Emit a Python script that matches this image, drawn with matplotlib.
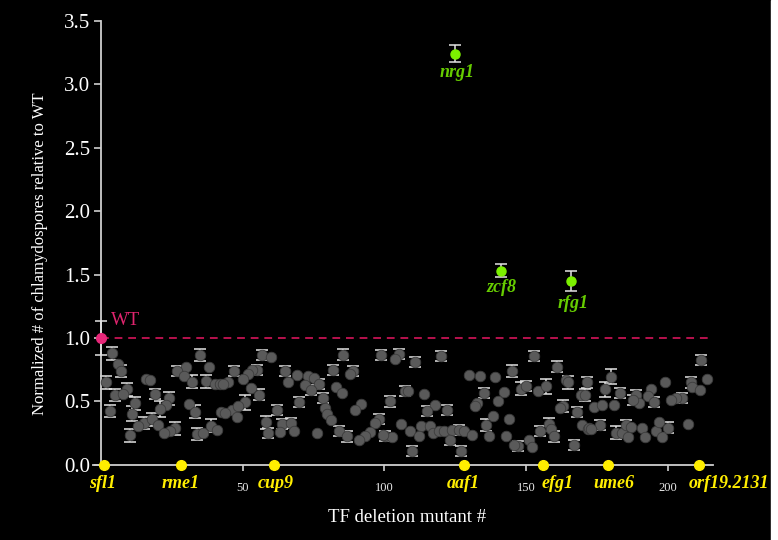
import matplotlib
matplotlib.use("Agg")
import matplotlib.pyplot as plt
from matplotlib.patches import Rectangle
import numpy as np

# ---------------- data ----------------
mut_x = [3.7, 34.9, 5.8, 6.8, 29.8, 38.0, 26.7, 29.0, 32.1, 36.8, 40.0, 41.8, 1.7, 15.8, 17.0,
         8.9, 4.9, 7.6, 18.8, 23.7, 11.7, 22.9, 30.9, 20.6, 32.9, 2.9, 10.9, 42.3, 14.9, 17.8,
         12.9, 20.0, 25.9, 24.1, 38.8, 40.9, 10.0, 22.0, 33.7, 35.9,
         56.8, 59.8, 85.2, 46.8, 54.8, 53.3, 51.9, 64.8, 69.0, 73.1, 75.1, 81.9, 44.8, 43.0, 49.9,
         66.0, 71.9, 77.0, 82.9, 84.9, 52.8, 55.8, 73.9, 78.2, 50.8, 69.9, 79.0, 79.8, 81.1, 46.0,
         43.5, 48.3, 47.8, 61.9, 58.0, 63.9, 67.0, 58.9, 63.0, 68.0, 76.0, 84.0,
         98.9, 105.0, 103.8, 110.9, 120.0, 88.9, 87.9, 107.3, 108.2, 113.9, 102.0, 91.7, 89.7, 118.0,
         115.0, 122.0, 98.0, 96.7, 105.9, 108.9, 112.9, 116.0, 112.3, 117.0, 119.2, 121.0, 123.8,
         126.2, 128.2, 123.2, 95.0, 93.2, 90.9, 86.7, 100.3, 102.7, 99.4, 109.7, 127.0,
         129.9, 133.7, 138.9, 145.0, 152.8, 161.0, 164.0, 164.8, 171.7, 135.1, 142.2, 148.1, 149.9,
         154.2, 157.0, 169.5, 171.0, 132.8, 131.9, 140.0, 163.0, 162.0, 168.1, 138.3, 144.0, 135.9,
         158.0, 159.0, 155.0, 131.0, 136.9, 143.0, 151.0, 147.1, 145.7, 152.0, 159.9, 169.9, 171.8,
         167.0,
         211.8, 180.0, 177.9, 183.1, 188.9, 194.2, 199.1, 190.0, 193.0, 187.7, 195.2, 208.2, 208.7,
         211.3, 214.0, 205.0, 203.0, 201.2, 174.0, 176.9, 181.0, 172.3, 176.0, 181.8, 183.9, 185.2,
         187.1, 185.9, 191.0, 192.0, 196.0, 196.9, 200.1, 198.0, 207.2, 173.0]

mut_y = [0.88, 0.865, 0.795, 0.74, 0.77, 0.77, 0.74, 0.70, 0.655, 0.66, 0.64, 0.64, 0.65, 0.68, 0.67,
         0.595, 0.55, 0.56, 0.56, 0.525, 0.485, 0.47, 0.48, 0.44, 0.42, 0.425, 0.405, 0.42, 0.33, 0.36,
         0.31, 0.315, 0.29, 0.27, 0.31, 0.275, 0.235, 0.25, 0.245, 0.255,
         0.865, 0.85, 0.87, 0.74, 0.75, 0.745, 0.72, 0.74, 0.71, 0.70, 0.685, 0.75, 0.65, 0.64, 0.675,
         0.65, 0.63, 0.635, 0.615, 0.57, 0.605, 0.555, 0.59, 0.525, 0.495, 0.495, 0.445, 0.40, 0.355, 0.43,
         0.41, 0.465, 0.375, 0.43, 0.335, 0.32, 0.33, 0.255, 0.26, 0.27, 0.25, 0.27,
         0.865, 0.873, 0.835, 0.81, 0.86, 0.74, 0.72, 0.585, 0.58, 0.56, 0.50, 0.48, 0.435, 0.47,
         0.425, 0.435, 0.36, 0.33, 0.32, 0.27, 0.31, 0.31, 0.23, 0.25, 0.27, 0.27, 0.275,
         0.275, 0.27, 0.20, 0.26, 0.23, 0.20, 0.225, 0.23, 0.22, 0.24, 0.11, 0.11,
         0.71, 0.70, 0.695, 0.74, 0.86, 0.775, 0.67, 0.65, 0.65, 0.57, 0.575, 0.60, 0.62,
         0.585, 0.62, 0.555, 0.55, 0.485, 0.465, 0.505, 0.465, 0.445, 0.42, 0.385, 0.36, 0.315,
         0.32, 0.28, 0.27, 0.24, 0.23, 0.23, 0.195, 0.15, 0.16, 0.145, 0.225, 0.315, 0.28,
         0.155,
         0.825, 0.695, 0.595, 0.565, 0.55, 0.60, 0.655, 0.485, 0.545, 0.51, 0.495, 0.65, 0.615,
         0.59, 0.675, 0.53, 0.53, 0.51, 0.46, 0.47, 0.475, 0.29, 0.315, 0.255, 0.25, 0.315,
         0.30, 0.22, 0.295, 0.22, 0.27, 0.34, 0.295, 0.22, 0.32, 0.28]

mut_err = [0.05, 0.05, 0, 0.05, 0, 0, 0.04, 0, 0.05, 0.05, 0, 0, 0.05, 0, 0,
           0.05, 0.05, 0, 0.04, 0.05, 0.05, 0, 0, 0.06, 0.05, 0.05, 0.06, 0, 0.05, 0.05,
           0, 0, 0.05, 0, 0.05, 0, 0.05, 0, 0.05, 0,
           0.04, 0, 0.04, 0.04, 0.04, 0, 0, 0.04, 0, 0, 0, 0.04, 0, 0, 0,
           0, 0, 0.04, 0, 0, 0, 0.04, 0.04, 0.04, 0.06, 0.04, 0, 0, 0, 0,
           0, 0, 0, 0.04, 0.05, 0.04, 0.04, 0.04, 0, 0, 0, 0.04,
           0.04, 0.04, 0, 0.04, 0.04, 0.04, 0, 0.04, 0, 0, 0.04, 0, 0, 0,
           0.04, 0.04, 0.04, 0, 0, 0, 0, 0, 0, 0, 0, 0, 0,
           0.04, 0, 0.04, 0, 0, 0, 0.04, 0.04, 0, 0, 0.04, 0.04,
           0, 0, 0, 0.05, 0.04, 0.04, 0, 0.05, 0.04, 0.04, 0, 0.05, 0.04,
           0, 0.06, 0, 0.05, 0, 0, 0, 0.05, 0, 0.04, 0, 0, 0.05,
           0.05, 0, 0.04, 0, 0, 0, 0, 0.04, 0, 0, 0.04, 0, 0,
           0.04,
           0.04, 0.06, 0.06, 0.04, 0.04, 0, 0, 0, 0, 0.04, 0.04, 0.04, 0,
           0, 0, 0.04, 0, 0, 0, 0, 0, 0, 0.04, 0.05, 0, 0.04,
           0, 0, 0, 0, 0, 0, 0.04, 0, 0, 0]

hit_names = ["nrg1", "zcf8", "rfg1"]
hit_x = [125, 141, 166]
hit_y = [3.24, 1.53, 1.45]
hit_err = [0.07, 0.05, 0.08]

wt_x, wt_y, wt_err = 0, 1.0, 0.13

ref_names = ["sfl1", "rme1", "cup9", "aaf1", "efg1", "ume6", "orf19.2131"]
ref_x = [1, 28, 61, 128, 156, 179, 211]

y_ticks = [0.0, 0.5, 1.0, 1.5, 2.0, 2.5, 3.0, 3.5]
x_ticks = [50, 100, 150, 200]

# ---------------- figure ----------------
SERIF = ["Liberation Serif", "DejaVu Serif"]
fig = plt.figure(figsize=(7.78, 5.40), dpi=100, facecolor="black")
ax = fig.add_axes([0.1195, 0.1389, 0.7967, 0.8231])
ax.set_facecolor("black")
ax.set_xlim(-3, 216)
ax.set_ylim(0, 3.5)

for s in ["top", "right"]:
    ax.spines[s].set_visible(False)
ax.spines["left"].set_position(("data", 0))
for s in ["left", "bottom"]:
    ax.spines[s].set_color("#cfcfcf")
    ax.spines[s].set_linewidth(1.3)

ax.set_yticks(y_ticks)
ax.set_yticklabels([f"{t:.1f}" for t in y_ticks], fontfamily=SERIF, fontsize=15, color="white")
ax.tick_params(axis="y", direction="out", length=5, width=1.2, color="#cfcfcf", pad=3)
ax.set_xticks(x_ticks)
ax.set_xticklabels([str(t) for t in x_ticks], fontfamily=SERIF, fontsize=9, color="#e8e8e8")
ax.tick_params(axis="x", direction="out", length=4, width=1.2, color="#cfcfcf", pad=8)

# WT reference line
ax.plot([0, 214.5], [wt_y, wt_y], linestyle=(0, (4, 3)), color="#b8124e", lw=1.4, zorder=1)

# error bars of mutants
mx = np.array(mut_x); my = np.array(mut_y); me = np.array(mut_err)
m = me > 0
ax.errorbar(mx[m], my[m], yerr=me[m], fmt="none", ecolor="#e4e4e4", elinewidth=1.1,
            capsize=4.3, capthick=1.1, zorder=2)
ax.plot(mx, my, "o", ms=7.6, mfc="#5a5a5a", mec="#3c3c3c", mew=0.6, ls="none", zorder=3)

# WT
ax.errorbar([wt_x], [wt_y], yerr=[wt_err], fmt="none", ecolor="#e4e4e4", elinewidth=1.1,
            capsize=4.3, capthick=1.1, zorder=4, clip_on=False)
ax.plot([wt_x], [wt_y], "o", ms=7, color="#e8287a", zorder=5, clip_on=False)
ax.text(3.5, 1.14, "WT", color="#e0246e", fontfamily=SERIF, fontsize=13.5, va="center", ha="left")

# hits
ax.errorbar(hit_x, hit_y, yerr=hit_err, fmt="none", ecolor="#e4e4e4", elinewidth=1.1,
            capsize=4.3, capthick=1.1, zorder=4)
ax.plot(hit_x, hit_y, "o", ms=6.5, color="#7cf000", zorder=5)
hit_off = [-14, -12, -16]
for n, x, y, o in zip(hit_names, hit_x, hit_y, hit_off):
    ax.annotate(n, (x, y), xytext=(1, o), textcoords="offset points", ha="center", va="center",
                color="#66cc00", fontfamily=SERIF, fontsize=13, fontweight="bold", style="italic")

# reference (yellow) mutants
ax.plot(ref_x, [0] * len(ref_x), "o", ms=7, color="#ffee00", zorder=6, clip_on=False)
ref_ha = ["center", "center", "center", "center", "left", "center", "left"]
ref_dx = [-1, 0, 1, 0, -1, 4, -7]
for n, x, ha, dx in zip(ref_names, ref_x, ref_ha, ref_dx):
    ax.annotate(n, (x, 0), xytext=(dx, -13.5), textcoords="offset points", ha=ha, va="center",
                color="#ffee00", fontfamily=SERIF, fontsize=13, fontweight="bold", style="italic",
                annotation_clip=False)

fig.text(407 / 778, 1 - 517 / 540, "TF deletion mutant #", color="white", fontfamily=SERIF,
         fontsize=13.5, ha="center", va="center")
fig.text(40 / 778, 1 - 254 / 540, "Normalized # of chlamydospores relative to WT", color="white",
         fontfamily=SERIF, fontsize=12, rotation=90, ha="center", va="center")

fig.patches.append(Rectangle((771 / 778, 0), 7 / 778, 1, transform=fig.transFigure,
                             color="white", zorder=10))

fig.savefig("out.png", dpi=100, facecolor=fig.get_facecolor())
